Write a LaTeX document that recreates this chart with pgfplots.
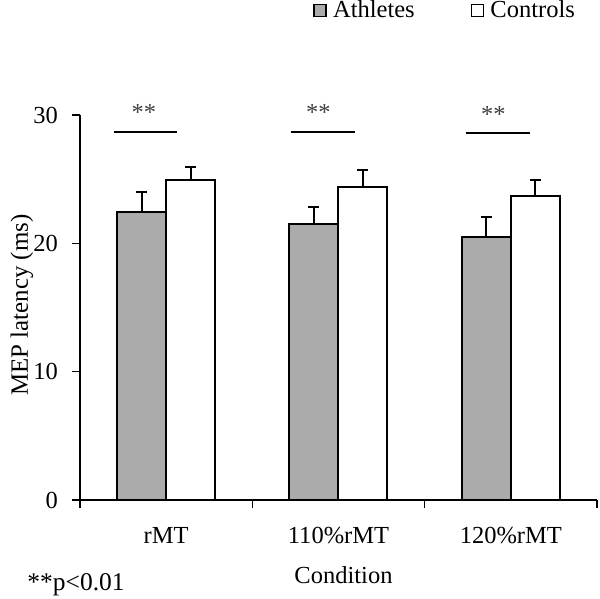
\documentclass[border=0pt]{standalone}
\usepackage{fontspec}
\setmainfont{Liberation Serif}
\usepackage{pgfplots}
\usepackage{pgfplotstable}
\pgfplotsset{compat=1.18}
\definecolor{barGray}{RGB}{171,171,171}

\pgfplotstableread{
x y err
0 22.47 1.51
1 21.49 1.37
2 20.52 1.56
}\athletes
\pgfplotstableread{
x y err
0 24.94 0.99
1 24.40 1.30
2 23.69 1.25
}\controls

\pgfplotsset{
  sqlegend/.style={legend image code/.code={\draw[##1, line width=0.7bp] (0bp,-3bp) rectangle (6bp,3bp); \path (7bp,0bp);}},
}

\begin{document}
\begin{tikzpicture}
\useasboundingbox (-40bp,-49.5bp) rectangle (260bp,250bp);
\begin{axis}[
  at={(0,0)}, anchor=south west,
  scale only axis, width=258.5bp, height=192.5bp,
  xmin=-0.5, xmax=2.5, ymin=0, ymax=30,
  axis x line=bottom, axis y line=left,
  axis line style={-, line width=0.6bp, black},
  tick align=outside, major tick length=4bp,
  tick style={line width=0.6bp, black},
  ytick={0,10,20,30},
  xtick={-0.5,0.5,1.5,2.5}, xticklabels={,,,,},
  extra x ticks={0,1,2},
  extra x tick labels={rMT,110\%rMT,120\%rMT},
  extra x tick style={major tick length=0pt, xticklabel style={yshift=-10bp}},
  yticklabel style={xshift=-3.5bp},
  /pgf/number format/assume math mode=true,
  tick label style={font=\fontsize{12.3}{14}\selectfont},
  ylabel={MEP latency (ms)},
  xlabel={Condition},
  every axis y label/.style={at={(rel axis cs:0,0.506)}, xshift=-29bp, rotate=90, anchor=center, font=\fontsize{12.5}{14}\selectfont},
  every axis x label/.style={at={(rel axis cs:0.5097,0)}, yshift=-41.5bp, anchor=base, font=\fontsize{12.3}{14}\selectfont},
  ybar=0pt, bar width=24.5bp,
  clip=false,
  legend style={at={(rel axis cs:0.4507,1.2714)}, anchor=west, draw=none, fill=none,
    inner sep=0pt, font=\fontsize{12.3}{14}\selectfont,
    /tikz/every even column/.append style={column sep=26bp}},
  legend columns=2, legend cell align=left,
]
\addplot[draw=black, fill=barGray, line width=1bp, sqlegend,
  error bars/.cd, y dir=plus, y explicit,
  error bar style={line width=1bp, black},
  error mark options={rotate=90, line width=1bp, mark size=2.75bp, black}]
  table[x=x, y=y, y error=err] {\athletes};
\addlegendentry{Athletes}
\addplot[draw=black, fill=white, line width=1bp, sqlegend,
  error bars/.cd, y dir=plus, y explicit,
  error bar style={line width=1bp, black},
  error mark options={rotate=90, line width=1bp, mark size=2.75bp, black}]
  table[x=x, y=y, y error=err] {\controls};
\addlegendentry{Controls}

\draw[line width=1bp] (axis cs:-0.301,28.7) -- (axis cs:0.063,28.7);
\draw[line width=1bp] (axis cs:0.7226,28.7) -- (axis cs:1.094,28.7);
\draw[line width=1bp] (axis cs:1.738,28.57) -- (axis cs:2.109,28.57);
\node[anchor=base, text=black!75, font=\fontsize{12.3}{14}\selectfont] at (axis cs:-0.13,29.6) {**};
\node[anchor=base, text=black!75, font=\fontsize{12.3}{14}\selectfont] at (axis cs:0.883,29.6) {**};
\node[anchor=base, text=black!75, font=\fontsize{12.3}{14}\selectfont] at (axis cs:1.898,29.4) {**};
\node[anchor=base west, inner sep=0pt, font=\fontsize{12.8}{14}\selectfont] at (rel axis cs:0,0) [xshift=-26.5bp, yshift=-45bp] {**p<0.01};
\end{axis}
\end{tikzpicture}
\end{document}
